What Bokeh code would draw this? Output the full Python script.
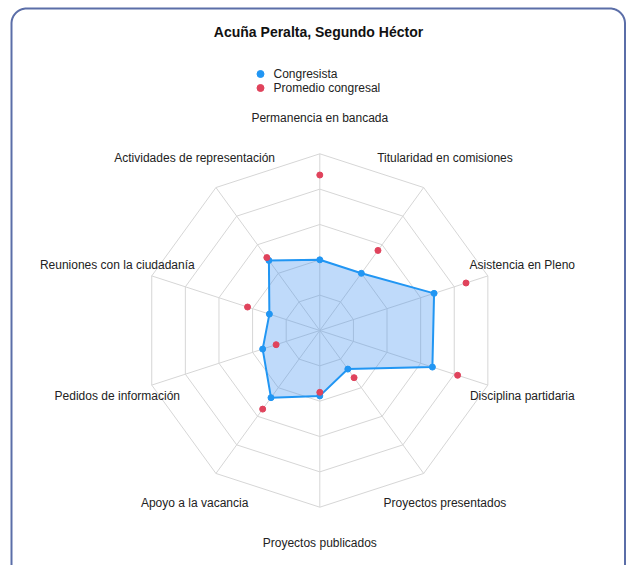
import numpy as np
from bokeh.plotting import figure
from bokeh.models import Range1d
from bokeh.core.properties import value
from bokeh.embed import file_html
from bokeh.resources import INLINE

# ---------------- data ----------------
categories = [
    "Permanencia en bancada",
    "Titularidad en comisiones",
    "Asistencia en Pleno",
    "Disciplina partidaria",
    "Proyectos presentados",
    "Proyectos publicados",
    "Apoyo a la vacancia",
    "Pedidos de información",
    "Reuniones con la ciudadanía",
    "Actividades de representación",
]
congresista = [40, 40, 68, 67, 27, 37, 47, 34, 30, 49]
promedio = [88, 56, 87, 82, 33, 35, 55, 26, 43, 51]
ring_levels = [20, 40, 60, 80, 100]
legend_labels = ["Congresista", "Promedio congresal"]
title_text = "Acuña Peralta, Segundo Héctor"

# ---------------- layout ----------------
W, H = 628, 565
OX, OY = 0, 0                # observed page position of the figure
CX, CY = 319.3, 330.0        # radar centre in page px
R = 176.7                    # px radius for value 100
S = R / 100.0
LABEL_V = 120.5              # label distance in value units
FONT = value("Liberation Sans")
BLUE = "#2196f3"
RED = "#e0435c"
GRID = "#d6d6d6"
TEXT = "#222222"
CARD = "#5b6ea8"

def px(xp):   # page x -> data x
    return xp - CX

def py(yp):   # page y -> data y
    return CY - yp

n = len(categories)
theta = 2 * np.pi * np.arange(n) / n

def polar(vals):
    v = np.asarray(vals, dtype=float) * S
    return v * np.sin(theta), v * np.cos(theta)

p = figure(width=W, height=H, output_backend="svg", toolbar_location=None,
           x_range=Range1d(px(OX), px(OX + W)), y_range=Range1d(py(OY + H), py(OY)),
           min_border=0)
p.axis.visible = False
p.xgrid.visible = False
p.ygrid.visible = False
p.outline_line_color = None
p.background_fill_color = "white"
p.border_fill_color = "white"

# card border (rounded rectangle, bottom runs off the page)
rad = 15
x0, x1 = px(11), px(624.5)
ytop, ybot = py(8.0), py(600)
a = np.linspace(0, np.pi / 2, 20)
bx = np.concatenate([[x0], x0 + rad - rad * np.cos(a), x1 - rad + rad * np.sin(a), [x1]])
by = np.concatenate([[ybot], ytop - rad + rad * np.sin(a), ytop - rad + rad * np.cos(a), [ybot]])
p.line(bx, by, line_color=CARD, line_width=2)

# grid rings
ring_xs, ring_ys = [], []
for lv in ring_levels:
    gx, gy = polar([lv] * n)
    ring_xs.append(list(gx) + [gx[0]])
    ring_ys.append(list(gy) + [gy[0]])
p.multi_line(ring_xs, ring_ys, line_color=GRID, line_width=1)

# spokes
ox, oy = polar([max(ring_levels)] * n)
p.multi_line([[0, x] for x in ox], [[0, y] for y in oy], line_color=GRID, line_width=1)

# axis labels
lx, ly = polar([LABEL_V] * n)
p.text(lx, ly, text=categories, text_align="center", text_baseline="middle",
       text_font=FONT, text_font_size="12px", text_color=TEXT)

# congresista area
cx_, cy_ = polar(congresista)
p.patch(cx_, cy_, fill_color="#3d8ef0", fill_alpha=0.33, line_color=BLUE, line_width=2)
p.scatter(cx_, cy_, size=6, fill_color=BLUE, line_color=BLUE)

# promedio points
mx, my = polar(promedio)
p.scatter(mx, my, size=6, fill_color=RED, line_color=RED)

# title
p.text([px(318)], [py(31)], text=[title_text], text_align="center", text_baseline="middle",
       text_font=FONT, text_font_size="14px", text_font_style="bold", text_color="#111111")

# legend
leg_y = [py(73.5), py(87.5)]
p.scatter([px(260)] * 2, leg_y, size=7, fill_color=[BLUE, RED], line_color=[BLUE, RED])
p.text([px(273)] * 2, leg_y, text=legend_labels, text_align="left", text_baseline="middle",
       text_font=FONT, text_font_size="12px", text_color=TEXT)

open("out.html", "w").write(file_html(p, INLINE))
